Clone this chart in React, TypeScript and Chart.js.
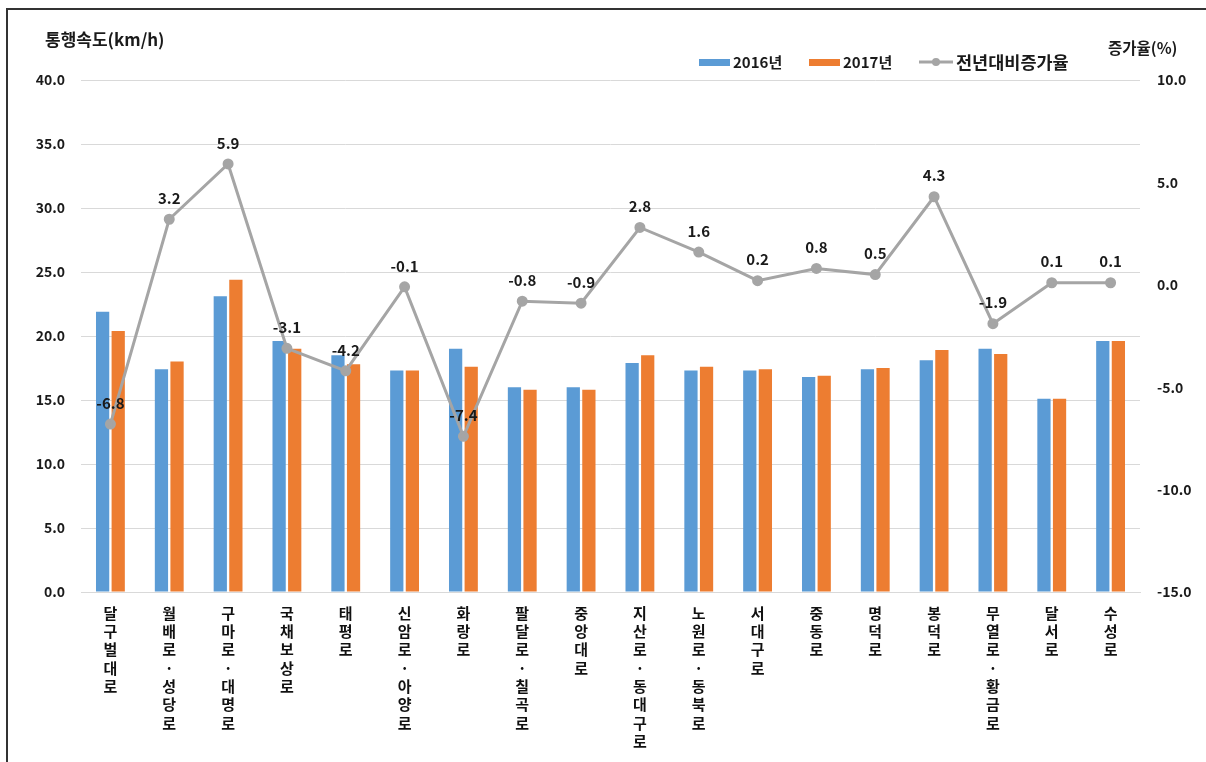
import React, { useEffect, useRef } from "react";
import { Chart, registerables } from "chart.js";

Chart.register(...registerables);

const FONT = "'Noto Sans CJK KR', 'Noto Sans', sans-serif";

const categories = [
  "달구벌대로",
  "월배로·성당로",
  "구마로·대명로",
  "국채보상로",
  "태평로",
  "신암로·아양로",
  "화랑로",
  "팔달로·칠곡로",
  "중앙대로",
  "지산로·동대구로",
  "노원로·동북로",
  "서대구로",
  "중동로",
  "명덕로",
  "봉덕로",
  "무열로·황금로",
  "달서로",
  "수성로",
];

const speed2016 = [21.9, 17.4, 23.1, 19.6, 18.5, 17.3, 19.0, 16.0, 16.0, 17.9, 17.3, 17.3, 16.8, 17.4, 18.1, 19.0, 15.1, 19.6];
const speed2017 = [20.4, 18.0, 24.4, 19.0, 17.8, 17.3, 17.6, 15.8, 15.8, 18.5, 17.6, 17.4, 16.9, 17.5, 18.9, 18.6, 15.1, 19.6];
const growth = [-6.8, 3.2, 5.9, -3.1, -4.2, -0.1, -7.4, -0.8, -0.9, 2.8, 1.6, 0.2, 0.8, 0.5, 4.3, -1.9, 0.1, 0.1];

const seriesNames = ["2016년", "2017년", "전년대비증가율"];
const leftTitle = "통행속도(km/h)";
const rightTitle = "증가율(%)";

const BLUE = "#5B9BD5";
const ORANGE = "#ED7D31";
const GRAY = "#A5A5A5";

const overlayPlugin = {
  id: "overlay",
  afterDatasetsDraw(chart: any) {
    const ctx = chart.ctx;
    const meta = chart.getDatasetMeta(0);
    ctx.save();
    ctx.font = `bold 15px ${FONT}`;
    ctx.fillStyle = "#1a1a1a";
    ctx.textAlign = "center";
    ctx.textBaseline = "middle";
    meta.data.forEach((pt: any, i: number) => {
      ctx.fillText(growth[i].toFixed(1), pt.x, pt.y - 21);
    });
    ctx.restore();
  },
  afterDraw(chart: any) {
    const ctx = chart.ctx;
    ctx.save();
    // frame
    ctx.fillStyle = "#333";
    ctx.fillRect(6, 8, 2, 760);
    ctx.fillRect(6, 8, 1210, 2);
    // axis titles
    ctx.fillStyle = "#1a1a1a";
    ctx.textBaseline = "middle";
    ctx.textAlign = "left";
    ctx.font = `bold 17px ${FONT}`;
    ctx.fillText(leftTitle, 45, 40);
    ctx.font = `bold 15.5px ${FONT}`;
    ctx.fillText(rightTitle, 1108, 48);
    // legend
    ctx.font = `bold 15px ${FONT}`;
    const ly = 62;
    ctx.fillStyle = BLUE;
    ctx.fillRect(699, ly - 3, 31, 7);
    ctx.fillStyle = "#1a1a1a";
    ctx.fillText(seriesNames[0], 733, ly);
    ctx.fillStyle = ORANGE;
    ctx.fillRect(809, ly - 3, 31, 7);
    ctx.fillStyle = "#1a1a1a";
    ctx.fillText(seriesNames[1], 843, ly);
    ctx.strokeStyle = GRAY;
    ctx.lineWidth = 3;
    ctx.beginPath();
    ctx.moveTo(919, ly);
    ctx.lineTo(953, ly);
    ctx.stroke();
    ctx.fillStyle = GRAY;
    ctx.beginPath();
    ctx.arc(936, ly, 4, 0, Math.PI * 2);
    ctx.fill();
    ctx.fillStyle = "#1a1a1a";
    ctx.font = `bold 17.5px ${FONT}`;
    ctx.fillText(seriesNames[2], 956, ly);
    ctx.restore();
  },
};

export default function App() {
  const ref = useRef<HTMLCanvasElement | null>(null);

  useEffect(() => {
    if (!ref.current) return;
    const chart = new Chart(ref.current, {
      type: "bar",
      data: {
        labels: categories.map((c) => Array.from(c)),
        datasets: [
          {
            type: "line",
            label: seriesNames[2],
            data: growth,
            yAxisID: "y1",
            borderColor: GRAY,
            backgroundColor: GRAY,
            borderWidth: 3,
            pointRadius: 4,
            pointBackgroundColor: GRAY,
            pointBorderColor: GRAY,
            tension: 0,
            order: 0,
          } as any,
          {
            type: "bar",
            label: seriesNames[0],
            data: speed2016,
            yAxisID: "y",
            backgroundColor: BLUE,
            categoryPercentage: 0.53,
            barPercentage: 0.85,
            order: 1,
          },
          {
            type: "bar",
            label: seriesNames[1],
            data: speed2017,
            yAxisID: "y",
            backgroundColor: ORANGE,
            categoryPercentage: 0.53,
            barPercentage: 0.85,
            order: 2,
          },
        ],
      },
      options: {
        responsive: false,
        animation: false,
        devicePixelRatio: 1,
        layout: { padding: { top: 80, left: 0, right: 0, bottom: 0 } },
        plugins: {
          legend: { display: false },
          tooltip: { enabled: false },
        },
        scales: {
          x: {
            grid: { display: false, drawTicks: false },
            border: { display: true, color: "#D9D9D9", width: 1 },
            ticks: {
              autoSkip: false,
              maxRotation: 0,
              minRotation: 0,
              padding: 12,
              color: "#111",
              font: { family: FONT, size: 15, weight: "bold", lineHeight: 1.22 },
            },
            afterFit: (s: any) => {
              s.height = 170;
            },
          },
          y: {
            position: "left",
            min: 0,
            max: 40,
            grid: { color: "#D9D9D9", drawTicks: false },
            border: { display: false },
            ticks: {
              stepSize: 5,
              padding: 16,
              color: "#1a1a1a",
              font: { family: FONT, size: 14, weight: "bold" },
              callback: (v: any) => Number(v).toFixed(1),
            },
            afterFit: (s: any) => {
              s.width = 81;
            },
          },
          y1: {
            position: "right",
            min: -15,
            max: 10,
            grid: { display: false, drawTicks: false },
            border: { display: false },
            ticks: {
              stepSize: 5,
              padding: 17,
              color: "#1a1a1a",
              font: { family: FONT, size: 14, weight: "bold" },
              callback: (v: any) => Number(v).toFixed(1),
            },
            afterFit: (s: any) => {
              s.width = 66;
            },
          },
        },
      } as any,
      plugins: [overlayPlugin],
    });
    return () => chart.destroy();
  }, []);

  return (
    <div style={{ position: "absolute", left: 0, top: 0, width: 1206, height: 762, background: "#fff" }}>
      <canvas ref={ref} width={1206} height={762} style={{ display: "block" }} />
    </div>
  );
}
